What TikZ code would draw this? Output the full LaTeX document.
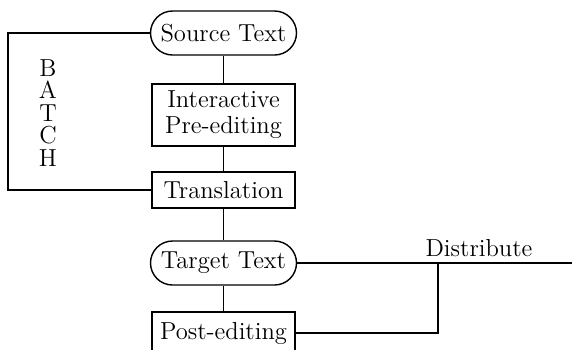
\documentclass[tikz,border=0pt]{standalone}
\begin{document}
\begin{tikzpicture}[x=0.5pt,y=-0.5pt,
  line width=0.7pt,
  txt/.style={font=\fontsize{12.3}{13}\selectfont},
  term/.style={txt,draw,rounded corners=11pt,minimum width=73pt,minimum height=22pt,inner sep=0pt},
  proc/.style={txt,draw,align=center,minimum width=71.5pt,inner sep=0pt}]
\useasboundingbox (0,0) rectangle (572,349);
\clip (0,0) rectangle (572,349);
\node[term] (src) at (223.5,33) {Source Text};
\node[proc,minimum height=31pt] (pre) at (223.5,115) {Interactive\\Pre-editing};
\node[proc,minimum height=18pt] (trans) at (223.5,190) {Translation};
\node[term] (tgt) at (223.5,263) {Target Text};
\node[proc,minimum height=21pt] (post) at (223.5,333) {Post-editing};
\node[txt,align=center,font={\fontsize{12.3}{11.25}\selectfont}] (batch) at (48,113) {B\\A\\T\\C\\H};
\node[txt] (dist) at (479,248) {Distribute};
\coordinate (loop) at (8,112);
\coordinate (join) at (438,263);
\coordinate (distend) at (572,263);
\draw (src) -- (pre);
\draw (pre) -- (trans);
\draw (trans) -- (tgt);
\draw (tgt) -- (post);
\draw (src.west) -| (loop) |- (trans.west);
\draw (tgt.east) -- (distend);
\draw (post.east) -| (join);
\end{tikzpicture}
\end{document}
